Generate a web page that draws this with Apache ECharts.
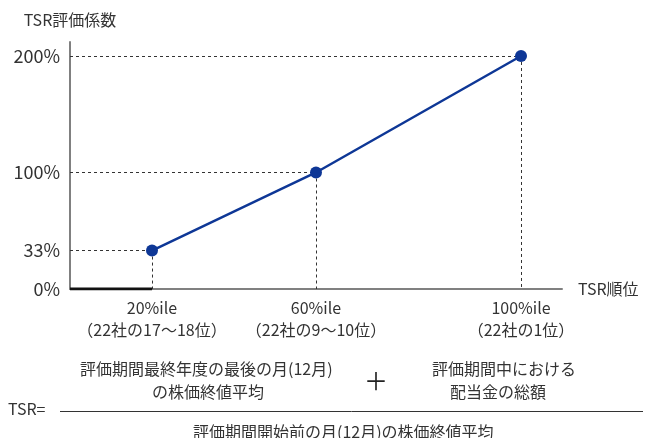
<!DOCTYPE html>
<html>
<head>
<meta charset="utf-8">
<script src="https://cdn.jsdelivr.net/npm/echarts@6/dist/echarts.min.js"></script>
<style>
  html, body { margin: 0; padding: 0; background: #fff; }
  #chart { width: 646px; height: 438px; }
</style>
</head>
<body>
<div id="chart"></div>
<script>
// Rank slots along the horizontal axis; only three of them carry a label
const rankCategories = [
  '', '', '20%ile\n（22社の17～18位）', '', '', '',
  '60%ile\n（22社の9～10位）', '', '', '', '',
  '100%ile\n（22社の1位）', ''
];
// Vesting points: rank slot and TSR coefficient (%)
const pointSlots = [2, 6, 11];
const pointCoefficients = [33, 100, 200];
// Below the 20th percentile the coefficient stays at 0%
const floorSlots = [0, 2];
const floorCoefficients = [0, 0];
// Tick labels on the coefficient axis
const coefficientTicks = [0, 33, 100, 200];

const FONT = '"Noto Sans CJK JP", "Noto Sans", sans-serif';
const TEXT = '#333';

const pointData = pointSlots.map((s, i) => [s, pointCoefficients[i]]);
const floorData = floorSlots.map((s, i) => [s, floorCoefficients[i]]);

// Dotted guides from each point to both axes
const guides = [];
pointData.forEach(([s, v]) => {
  guides.push([{ coord: [0, v] }, { coord: [s, v] }]);
  guides.push([{ coord: [s, v] }, { coord: [s, 0] }]);
});

const chart = echarts.init(document.getElementById('chart'), null, { renderer: 'canvas' });

chart.setOption({
  animation: false,
  textStyle: { fontFamily: FONT, color: TEXT },
  grid: { left: 70, right: 84, top: 42, bottom: 149, containLabel: false },
  xAxis: {
    type: 'category',
    data: rankCategories,
    boundaryGap: false,
    name: 'TSR順位',
    nameLocation: 'end',
    nameGap: 16,
    nameTextStyle: { fontFamily: FONT, fontSize: 16, color: TEXT },
    axisLine: { lineStyle: { color: '#808080', width: 2 } },
    axisTick: { show: false },
    splitLine: { show: false },
    axisLabel: {
      interval: 0,
      margin: 8,
      fontFamily: FONT,
      fontSize: 16,
      lineHeight: 22,
      color: TEXT
    }
  },
  yAxis: {
    type: 'value',
    min: 0,
    max: 212,
    name: 'TSR評価係数',
    nameLocation: 'end',
    nameGap: 14,
    nameTextStyle: { fontFamily: FONT, fontSize: 16, color: TEXT, align: 'center' },
    axisLine: { show: true, lineStyle: { color: '#808080', width: 2 } },
    axisTick: { show: false },
    splitLine: { show: false },
    axisLabel: {
      customValues: coefficientTicks,
      formatter: v => v + '%',
      margin: 10,
      fontFamily: FONT,
      fontSize: 18,
      color: TEXT
    }
  },
  series: [
    {
      type: 'line',
      data: floorData,
      symbol: 'none',
      lineStyle: { color: '#111', width: 3 },
      z: 3
    },
    {
      type: 'line',
      data: pointData,
      symbol: 'circle',
      symbolSize: 12,
      itemStyle: { color: '#0e3796' },
      lineStyle: { color: '#0e3796', width: 2.5 },
      z: 4,
      markLine: {
        silent: true,
        symbol: 'none',
        label: { show: false },
        lineStyle: { color: '#333', width: 1, type: [3, 3] },
        data: guides,
        z: 2
      }
    }
  ],
  graphic: [
    { type: 'text', left: 80, top: 361, style: { text: '評価期間最終年度の最後の月(12月)', font: '16px ' + FONT, fill: TEXT } },
    { type: 'text', left: 152, top: 384, style: { text: 'の株価終値平均', font: '16px ' + FONT, fill: TEXT } },
    { type: 'text', x: 376, y: 381, style: { text: '＋', font: '24px ' + FONT, fill: '#222', align: 'center', verticalAlign: 'middle' } },
    { type: 'text', left: 432, top: 361, style: { text: '評価期間中における', font: '16px ' + FONT, fill: TEXT } },
    { type: 'text', left: 450, top: 384, style: { text: '配当金の総額', font: '16px ' + FONT, fill: TEXT } },
    { type: 'text', left: 8, top: 401, style: { text: 'TSR=', font: '16px ' + FONT, fill: TEXT } },
    { type: 'line', shape: { x1: 60, y1: 411.5, x2: 643, y2: 411.5 }, style: { stroke: '#333', lineWidth: 1 } },
    { type: 'text', left: 193, top: 424, style: { text: '評価期間開始前の月(12月)の株価終値平均', font: '16px ' + FONT, fill: TEXT } }
  ]
});
</script>
</body>
</html>
